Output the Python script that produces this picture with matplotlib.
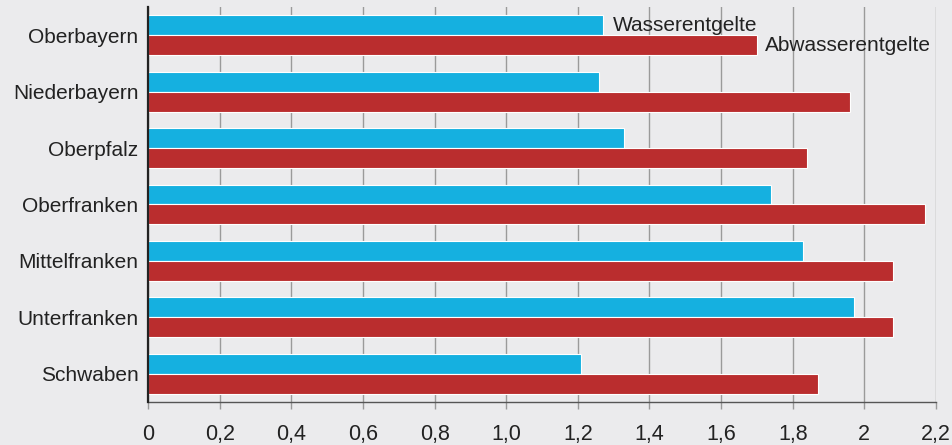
import numpy as np
import matplotlib
matplotlib.use("Agg")
import matplotlib.pyplot as plt

# data (Euro per m3)
regions = ["Oberbayern", "Niederbayern", "Oberpfalz", "Oberfranken",
           "Mittelfranken", "Unterfranken", "Schwaben"]
wasser = [1.27, 1.26, 1.33, 1.74, 1.83, 1.97, 1.21]
abwasser = [1.70, 1.96, 1.84, 2.17, 2.08, 2.08, 1.87]
xticks = [0, 0.2, 0.4, 0.6, 0.8, 1.0, 1.2, 1.4, 1.6, 1.8, 2.0, 2.2]
xticklabels = ["0", "0,2", "0,4", "0,6", "0,8", "1,0", "1,2", "1,4",
               "1,6", "1,8", "2", "2,2"]

plt.rcParams['font.family'] = ['Liberation Sans', 'DejaVu Sans']
bg = "#ebebed"
blue = "#15b0e0"
red = "#ba2d2e"

fig = plt.figure(figsize=(9.52, 4.45), dpi=100, facecolor=bg)
ax = fig.add_axes([0.1555, 0.0966, 0.8277, 0.8877], facecolor=bg)

y = np.arange(len(regions))
h = 0.354
ax.barh(y - h/2, wasser, height=h, color=blue, edgecolor="white", linewidth=0.8, zorder=3)
ax.barh(y + h/2, abwasser, height=h, color=red, edgecolor="white", linewidth=0.8, zorder=3)

# series labels next to the first pair of bars
ax.annotate("Wasserentgelte", (wasser[0], y[0] - h/2), xytext=(7, 0),
            textcoords="offset points", va="center", ha="left", fontsize=15, color="#222222")
ax.annotate("Abwasserentgelte", (abwasser[0], y[0] + h/2), xytext=(6, 0),
            textcoords="offset points", va="center", ha="left", fontsize=15, color="#222222")

ax.set_xlim(0, 2.2)
ax.set_ylim(len(regions) - 0.5, -0.5)
ax.set_yticks(y)
ax.set_yticklabels(regions, fontsize=15, color="#222222")
ax.set_xticks(xticks)
ax.set_xticklabels(xticklabels, fontsize=15.5, color="#222222")
ax.tick_params(axis="y", length=0, pad=7)
ax.tick_params(axis="x", length=5, width=1, color="#999999", pad=11)

ax.grid(axis="x", color="#9a9a9a", linewidth=1, zorder=0)
ax.set_axisbelow(True)
for s in ["top", "right"]:
    ax.spines[s].set_visible(False)
ax.spines["left"].set_color("#222222")
ax.spines["left"].set_linewidth(1.6)
ax.spines["left"].set_zorder(4)
ax.spines["bottom"].set_color("#555555")
ax.spines["bottom"].set_linewidth(1)

fig.savefig("out.png", dpi=100, facecolor=bg)
